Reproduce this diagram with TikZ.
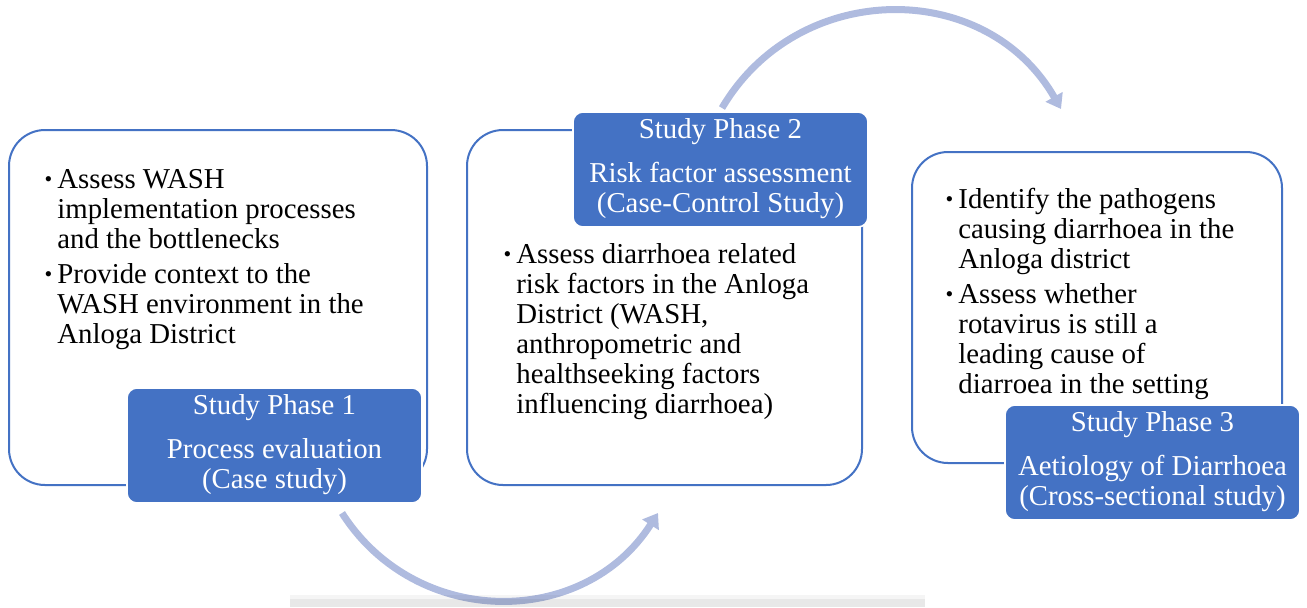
\documentclass[tikz,border=0pt]{standalone}
\usepackage{fontspec}
\setmainfont{Liberation Serif}
\usetikzlibrary{arrows.meta}
\definecolor{phaseblue}{RGB}{68,114,196}
\definecolor{arrowblue}{RGB}{175,187,223}
\newcommand{\bul}{\llap{\raisebox{0.6pt}{\fontsize{11}{11}\selectfont\textbullet}\hspace{2.5pt}}}

\begin{document}
\begin{tikzpicture}[x=0.5pt, y=-0.5pt,
    phasebox/.style={draw=phaseblue, line width=1pt, rounded corners=18pt, fill=white},
    phaselabel/.style={fill=phaseblue, draw=white, line width=0.8pt, rounded corners=5pt,
        minimum width=147.5pt, minimum height=57.5pt, inner sep=0pt,
        text=white, font=\fontsize{14.4}{15}\selectfont},
    bullets/.style={anchor=base west, inner sep=0pt, font=\fontsize{14.4}{15}\selectfont},
    phasearrow/.style={draw=arrowblue, line width=3.5pt, -{Triangle[width=9.5pt,length=7pt]}}
]
\useasboundingbox (0,0) rectangle (1307,607);

% phase boxes
\node[phasebox, minimum width=209pt, minimum height=177.5pt] (box1) at (218,307.5) {};
\node[phasebox, minimum width=197.5pt, minimum height=177.5pt] (box2) at (664.5,307.5) {};
\node[phasebox, minimum width=185pt, minimum height=155.5pt] (box3) at (1097,307.5) {};

% phase labels
\node[phaselabel] (lab1) at (274.5,445.5) {\begin{tabular}{@{}c@{}}Study Phase 1\\[7pt] Process evaluation\\ (Case study)\end{tabular}};
\node[phaselabel] (lab2) at (720.5,169.5) {\begin{tabular}{@{}c@{}}Study Phase 2\\[7pt] Risk factor assessment\\ (Case-Control Study)\end{tabular}};
\node[phaselabel] (lab3) at (1152.5,462.5) {\begin{tabular}{@{}c@{}}Study Phase 3\\[7pt] Aetiology of Diarrhoea\\ (Cross-sectional study)\end{tabular}};

% aims
\node[bullets] (aim1) at (57,188) {\begin{tabular}[t]{@{}l@{}}\bul Assess WASH\\ implementation processes\\ and the bottlenecks\\[2.5pt] \bul Provide context to the\\ WASH environment in the\\ Anloga District\end{tabular}};
\node[bullets] (aim2) at (516,263) {\begin{tabular}[t]{@{}l@{}}\bul Assess diarrhoea related\\ risk factors in the Anloga\\ District (WASH,\\ anthropometric and\\ healthseeking factors\\ influencing diarrhoea)\end{tabular}};
\node[bullets] (aim3) at (958,208) {\begin{tabular}[t]{@{}l@{}}\bul Identify the pathogens\\ causing diarrhoea in the\\ Anloga district\\[2.5pt] \bul Assess whether\\ rotavirus is still a\\ leading cause of\\ diarroea in the setting\end{tabular}};

% arrows between phases
\coordinate (from1) at (342,513);
\coordinate (to2) at (658,513);
\coordinate (from2) at (722,108);
\coordinate (to3) at (1061,109);
\draw[phasearrow] (from1) .. controls (416,629) and (584,629) .. (to2);
\draw[phasearrow] (from2) .. controls (798,-21) and (986,-22) .. (to3);

\fill[black, opacity=0.04] (290,595) rectangle (925,599);
\fill[black, opacity=0.09] (290,599) rectangle (925,607);
\end{tikzpicture}
\end{document}
